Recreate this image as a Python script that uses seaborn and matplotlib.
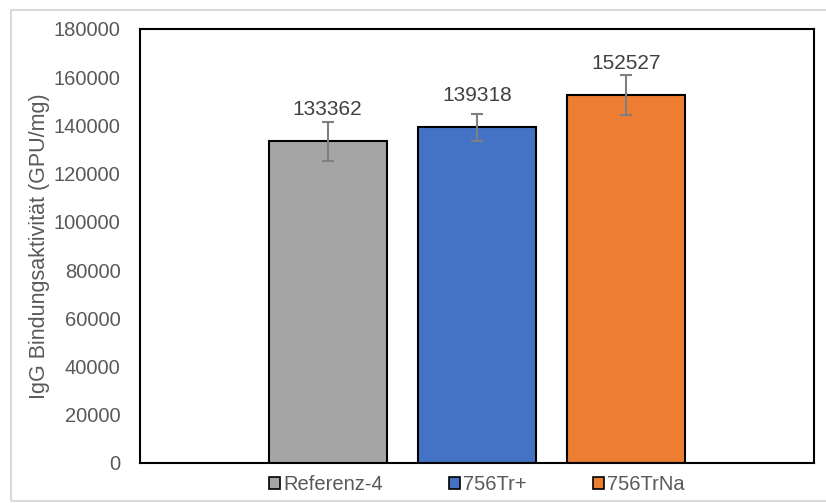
import matplotlib
matplotlib.use("Agg")
import matplotlib.pyplot as plt
import seaborn as sns
import pandas as pd
from matplotlib.patches import Rectangle, Patch

# ---------------------------------------------------
# DATA
# ---------------------------------------------------

categories = ["Referenz-4", "756Tr+", "756TrNa"]
values = [133362, 139318, 152527]
errors = [8000, 5600, 8300]
colors = ["#A5A5A5", "#4472C4", "#ED7D31"]
y_ticks = [0, 20000, 40000, 60000, 80000, 100000, 120000, 140000, 160000, 180000]

df = pd.DataFrame({"Probe": categories, "Wert": values})

# ---------------------------------------------------
# PLOT
# ---------------------------------------------------

sns.set_style("white")
plt.rcParams["font.family"] = ["Liberation Sans", "DejaVu Sans"]

fig = plt.figure(figsize=(8.26, 5.03), dpi=100)
ax = fig.add_axes([140 / 826, 1 - 463 / 503, 674 / 826, 434 / 503])

sns.barplot(data=df, x="Probe", y="Wert", hue="Probe", palette=colors,
            saturation=1, width=0.79, edgecolor="black", linewidth=1.5,
            legend=False, ax=ax)

ax.errorbar(range(len(values)), values, yerr=errors, fmt="none",
            ecolor="#7F7F7F", elinewidth=1.5, capsize=4, capthick=1.5)

for i, v in enumerate(values):
    ax.annotate(str(v), (i, v), xytext=(0, 16), textcoords="offset points",
                ha="center", va="bottom", fontsize=15, color="#404040")

ax.set_xlim(-1.255, 3.255)
ax.set_ylim(0, 180000)
ax.set_yticks(y_ticks)
ax.set_xticks([])
ax.set_xlabel("")
ax.set_ylabel("IgG Bindungsaktivität (GPU/mg)", fontsize=15.5, color="#595959", labelpad=3)
ax.tick_params(axis="y", direction="in", length=5, width=1.2, color="black",
               labelsize=14.5, labelcolor="#595959", pad=14)

for s in ax.spines.values():
    s.set_visible(True)
    s.set_color("black")
    s.set_linewidth(1.5)

handles = [Patch(facecolor=c, edgecolor="black", linewidth=1.2) for c in colors]
ax.legend(handles, categories, loc="upper center", bbox_to_anchor=(0.5, 0.0),
          ncol=3, frameon=False, fontsize=14.5, handlelength=0.55, handleheight=0.55,
          handletextpad=0.15, columnspacing=3.3, labelcolor="#595959",
          borderaxespad=0.2)

# light frame around the chart area
fig.patches.append(Rectangle((11 / 826, 0.004), 1, 1 - 10 / 503 - 0.004,
                             transform=fig.transFigure, fill=False,
                             edgecolor="#D9D9D9", linewidth=1.5))

plt.savefig("out.png", dpi=100)
plt.close()
